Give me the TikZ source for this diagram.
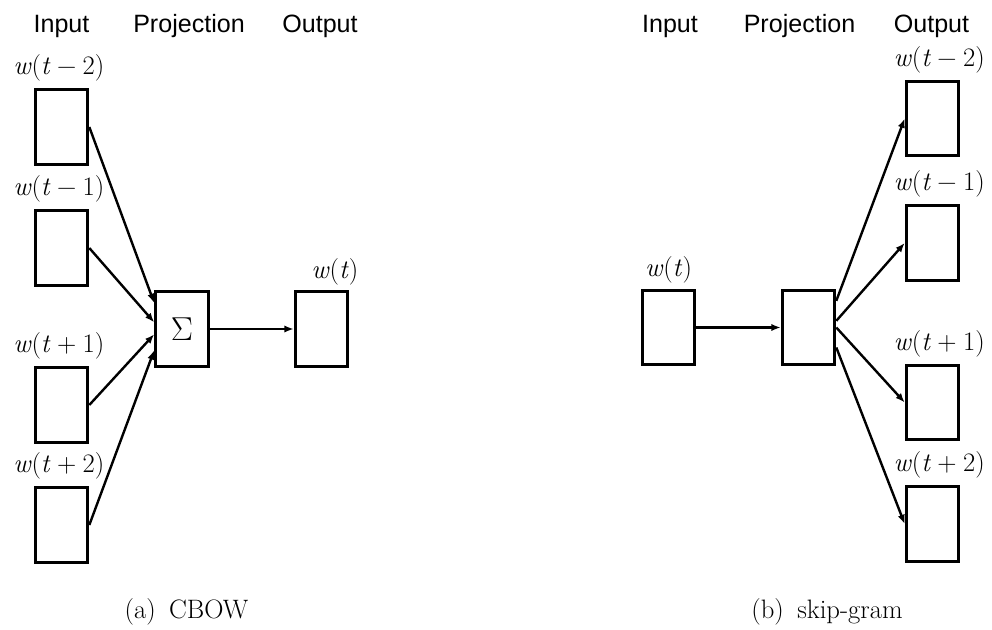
\documentclass[tikz,border=0pt]{standalone}
\usepackage{fontspec}
\newfontfamily\arialfont{Liberation Sans}
\usetikzlibrary{arrows.meta}
\newcommand{\wlab}[1]{\textit{w}(\textit{t}#1)}
\newcommand{\mop}[1]{\hspace{0.24em}#1\hspace{0.24em}}
\begin{document}
\begin{tikzpicture}[x=0.75pt,y=-0.75pt,
  box/.style={draw, line width=2.2pt, minimum width=39.5pt, minimum height=56pt, inner sep=0pt},
  arr/.style={line width=1.8pt, -{Latex[length=7pt,width=5.5pt]}},
  head/.style={font=\arialfont\fontsize{18.8}{22}\selectfont, anchor=base, inner sep=0pt},
  lab/.style={font=\fontsize{20}{23}\selectfont, anchor=base, inner sep=0pt},
  captext/.style={font=\fontsize{20}{24}\selectfont, inner sep=0pt}]
\useasboundingbox (0,0) rectangle (992,630);
% ---------- CBOW ----------
\node[head] (h1) at (61.5,33) {Input};
\node[head] (h2) at (189,33) {Projection};
\node[head] (h3) at (320,33) {Output};
\node[box] (a1) at (61.5,127) {};
\node[box] (a2) at (61.5,248) {};
\node[box] (a3) at (61.5,405) {};
\node[box] (a4) at (61.5,525) {};
\node[box, font=\fontsize{24.88}{28}\selectfont] (s) at (182,329) {$\Sigma$};
\node[box] (ao) at (321.5,329) {};
\node[lab] (la1) at ([xshift=-2pt,yshift=10pt]a1.north) {\wlab{\mop{−}2}};
\node[lab] (la2) at ([xshift=-2pt,yshift=10pt]a2.north) {\wlab{\mop{−}1}};
\node[lab] (la3) at ([xshift=-2pt,yshift=10pt]a3.north) {\wlab{\mop{+}1}};
\node[lab] (la4) at ([xshift=-2pt,yshift=10pt]a4.north) {\wlab{\mop{+}2}};
\node[lab] (lao) at ([xshift=10pt,yshift=9pt]ao.north) {\wlab{}};
\draw[arr] (a1.east) -- ([yshift=19.5pt]s.west);
\draw[arr] (a2.east) -- ([yshift=5pt]s.west);
\draw[arr] (a3.east) -- ([yshift=-4pt]s.west);
\draw[arr] (a4.east) -- ([yshift=-16pt]s.west);
\draw[arr] (s.east) -- (ao.west);
\node[captext] (ca) at (186.5,612) {(a)\hspace{0.5em}CBOW};
% ---------- skip-gram ----------
\node[head] (g1) at (670,33) {Input};
\node[head] (g2) at (799.5,33) {Projection};
\node[head] (g3) at (931.5,33) {Output};
\node[box] (bi) at (668.5,327.5) {};
\node[box] (p) at (808.5,327.5) {};
\node[box] (b1) at (932.5,118.5) {};
\node[box] (b2) at (932.5,243) {};
\node[box] (b3) at (932.5,402.5) {};
\node[box] (b4) at (932.5,524) {};
\node[lab] (lbi) at ([xshift=0pt,yshift=9pt]bi.north) {\wlab{}};
\node[lab] (lb1) at ([xshift=5pt,yshift=10pt]b1.north) {\wlab{\mop{−}2}};
\node[lab] (lb2) at ([xshift=5pt,yshift=10pt]b2.north) {\wlab{\mop{−}1}};
\node[lab] (lb3) at ([xshift=5pt,yshift=10pt]b3.north) {\wlab{\mop{+}1}};
\node[lab] (lb4) at ([xshift=5pt,yshift=10pt]b4.north) {\wlab{\mop{+}2}};
\draw[arr] (bi.east) -- (p.west);
\draw[arr] ([yshift=20pt]p.east) -- (b1.west);
\draw[arr] ([yshift=5pt]p.east) -- (b2.west);
\draw[arr] ([yshift=0pt]p.east) -- (b3.west);
\draw[arr] ([yshift=-15pt]p.east) -- (b4.west);
\node[captext] (cb) at (827,612) {(b)\hspace{0.5em}skip-gram};
\end{tikzpicture}
\end{document}
